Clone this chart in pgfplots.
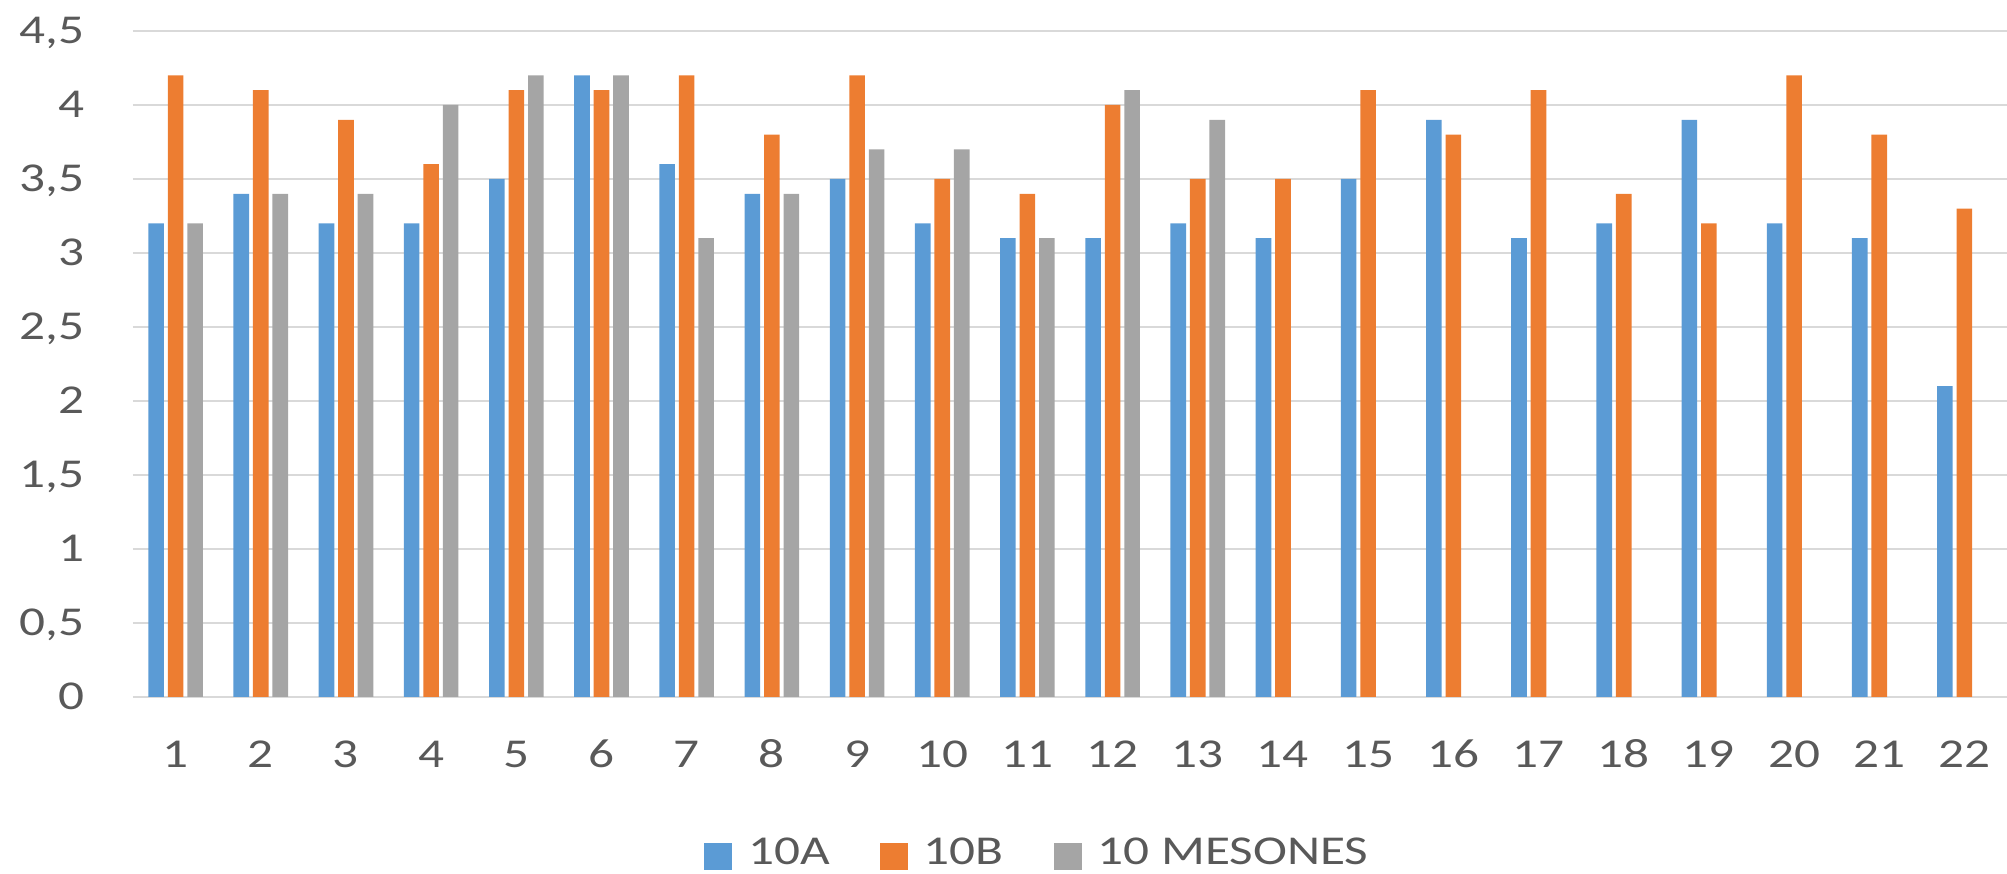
\documentclass[border=0pt]{standalone}
\usepackage{fontspec}
\setmainfont{Carlito}[FakeStretch=1.25]
\usepackage{pgfplots}
\pgfplotsset{compat=1.18}
\definecolor{cA}{HTML}{5B9BD5}
\definecolor{cB}{HTML}{ED7D31}
\definecolor{cC}{HTML}{A5A5A5}
\definecolor{txt}{HTML}{595959}
\definecolor{gridc}{HTML}{D9D9D9}
\begin{document}
\begin{tikzpicture}
\begin{axis}[
  scale only axis, width=468.5pt, height=166.5pt,
  xmin=0.5, xmax=22.5, ymin=0, ymax=4.5,
  ybar=0.975pt, bar width=3.9pt,
  xtick={1,...,22}, ytick={0,0.5,...,4.5},
  axis line style={draw=none},
  ymajorgrids, grid style={gridc, line width=0.6pt},
  major tick length=0pt,
  /pgf/number format/assume math mode=true,
  /pgf/number format/use comma,
  tick label style={font=\fontsize{10.25}{12}\selectfont, text=txt, inner sep=0pt},
  xticklabel style={anchor=base, yshift=-17.75pt},
  yticklabel style={anchor=base east, xshift=-12pt, yshift=-3.25pt},
  sq/.style={legend image code/.code={\fill[##1] (0pt,-3.9pt) rectangle (7pt,2.85pt);}},
  legend columns=3,
  legend style={at={(0.482,-0.2357)}, anchor=center, draw=none, fill=none,
    font=\fontsize{10.25}{12}\selectfont, text=txt, inner sep=0pt,
    nodes={inner sep=0pt},
    /tikz/every odd column/.append style={column sep=4pt},
    /tikz/every even column/.append style={column sep=12.5pt}},
]
\addplot[fill=cA, draw=none, sq] coordinates {
(1,3.2) (2,3.4) (3,3.2) (4,3.2) (5,3.5) (6,4.2) (7,3.6) (8,3.4) (9,3.5) (10,3.2) (11,3.1)
(12,3.1) (13,3.2) (14,3.1) (15,3.5) (16,3.9) (17,3.1) (18,3.2) (19,3.9) (20,3.2) (21,3.1) (22,2.1)};
\addplot[fill=cB, draw=none, sq] coordinates {
(1,4.2) (2,4.1) (3,3.9) (4,3.6) (5,4.1) (6,4.1) (7,4.2) (8,3.8) (9,4.2) (10,3.5) (11,3.4)
(12,4.0) (13,3.5) (14,3.5) (15,4.1) (16,3.8) (17,4.1) (18,3.4) (19,3.2) (20,4.2) (21,3.8) (22,3.3)};
\addplot[fill=cC, draw=none, sq] coordinates {
(1,3.2) (2,3.4) (3,3.4) (4,4.0) (5,4.2) (6,4.2) (7,3.1) (8,3.4) (9,3.7) (10,3.7) (11,3.1)
(12,4.1) (13,3.9)};
\legend{10A, 10B, 10 MESONES}
\end{axis}
\pgfresetboundingbox
\path ([xshift=-33.25pt, yshift=-44.25pt]current axis.south west) rectangle ([yshift=7.75pt]current axis.north east);
\end{tikzpicture}
\end{document}
